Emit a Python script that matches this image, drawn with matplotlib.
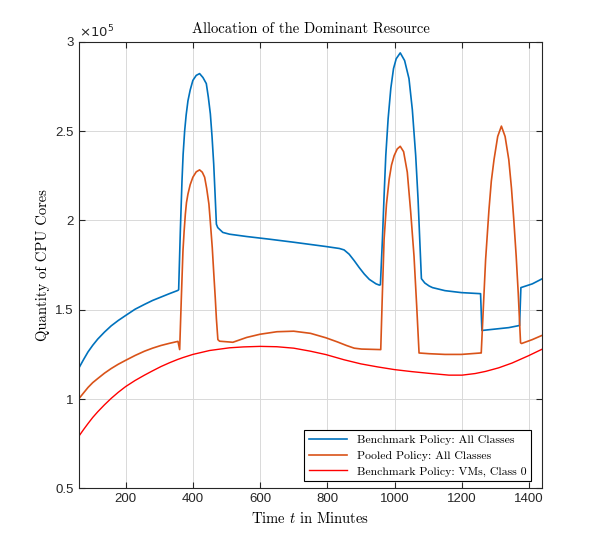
import numpy as np
import matplotlib
matplotlib.use("Agg")
import matplotlib.pyplot as plt
from matplotlib.ticker import FuncFormatter

# values in units of 1e5 CPU cores
bench_t = [60, 75, 88, 102, 117, 137, 157, 178, 200, 228,
           256, 280, 305, 330, 355, 357.7, 362.7, 367.6, 371, 375.5,
           380, 385.4, 392, 400, 410, 420, 430, 440, 446, 452,
           457, 462, 466, 470, 474, 489, 509, 560, 628, 700,
           796, 836, 850, 865, 880, 895, 910, 925, 945, 955,
           958, 964, 969, 974, 981, 989, 997, 1005, 1017, 1030,
           1043, 1053, 1063, 1070, 1075, 1080, 1090, 1103, 1113, 1150,
           1199, 1256, 1260, 1300, 1340, 1372, 1376, 1410, 1440]
bench_all = [1.171, 1.222, 1.264, 1.301, 1.336, 1.375, 1.41, 1.44, 1.468, 1.503,
             1.53, 1.552, 1.571, 1.59, 1.608, 1.612, 1.94, 2.22, 2.37, 2.50,
             2.59, 2.67, 2.73, 2.784, 2.812, 2.822, 2.80, 2.766, 2.69, 2.597,
             2.47, 2.316, 2.15, 1.979, 1.96, 1.933, 1.923, 1.91, 1.895, 1.878,
             1.854, 1.843, 1.835, 1.811, 1.775, 1.736, 1.70, 1.67, 1.645, 1.638,
             1.64, 1.895, 2.14, 2.363, 2.57, 2.74, 2.85, 2.905, 2.938, 2.895,
             2.794, 2.62, 2.363, 2.12, 1.895, 1.674, 1.65, 1.633, 1.624, 1.607,
             1.596, 1.59, 1.384, 1.392, 1.40, 1.412, 1.624, 1.645, 1.674]

pooled_t = [60, 75, 88, 102, 117, 137, 157, 178, 200, 228,
            256, 280, 305, 330, 355.7, 360.7, 365.7, 370.5, 374, 377.6,
            381, 385.4, 392, 400, 410, 420, 428, 435, 441, 447.7,
            452, 457.7, 462, 466.6, 470, 474.4, 479.4, 519, 560, 600,
            650, 700, 750, 796, 830, 857, 880, 902, 959, 964,
            969, 976, 984, 991, 999, 1008, 1017, 1027, 1038, 1048,
            1058, 1066, 1073, 1103, 1150, 1199, 1256, 1258, 1264, 1271,
            1281, 1288, 1296, 1307, 1318, 1329, 1340, 1348, 1355, 1362,
            1368, 1375, 1378, 1410, 1437, 1440]
pooled_all = [1.0, 1.035, 1.065, 1.092, 1.115, 1.145, 1.171, 1.195, 1.217, 1.244,
              1.268, 1.285, 1.30, 1.312, 1.323, 1.277, 1.567, 1.829, 1.94, 2.035,
              2.10, 2.148, 2.20, 2.242, 2.272, 2.283, 2.27, 2.242, 2.18, 2.092,
              1.99, 1.848, 1.71, 1.567, 1.45, 1.333, 1.324, 1.318, 1.345, 1.363,
              1.377, 1.38, 1.368, 1.343, 1.32, 1.30, 1.285, 1.28, 1.277, 1.60,
              1.895, 2.09, 2.23, 2.31, 2.363, 2.40, 2.415, 2.385, 2.27, 2.05,
              1.80, 1.52, 1.258, 1.254, 1.25, 1.25, 1.258, 1.258, 1.50, 1.78,
              2.06, 2.22, 2.34, 2.47, 2.528, 2.47, 2.34, 2.18, 2.0, 1.80,
              1.596, 1.315, 1.311, 1.333, 1.355, 1.357]

vm_t = [60, 75, 88, 102, 117, 137, 157, 178, 200, 228,
        256, 280, 305, 330, 355, 370, 400, 450, 509, 550,
        600, 650, 700, 750, 796, 850, 900, 950, 1000, 1050,
        1103, 1162, 1201, 1240, 1271, 1310, 1350, 1399, 1440]
vm_class0 = [0.79, 0.83, 0.863, 0.897, 0.929, 0.968, 1.004, 1.038, 1.07, 1.104,
             1.134, 1.158, 1.182, 1.203, 1.222, 1.232, 1.25, 1.272, 1.287, 1.292,
             1.295, 1.293, 1.285, 1.268, 1.249, 1.22, 1.197, 1.18, 1.165, 1.154,
             1.144, 1.134, 1.134, 1.143, 1.155, 1.175, 1.202, 1.243, 1.28]

labels = ['Benchmark Policy: All Classes',
          'Pooled Policy: All Classes',
          'Benchmark Policy: VMs, Class 0']

plt.rcParams['mathtext.fontset'] = 'cm'
serif = 'cmr10'
tick_font = 'Liberation Sans'

fig = plt.figure(figsize=(6, 5.5), dpi=100)
ax = fig.add_axes([0.131, 0.112, 0.773, 0.812])

ax.plot(bench_t, bench_all, color='#0072BD', lw=1.2, label=labels[0])
ax.plot(pooled_t, pooled_all, color='#D95319', lw=1.2, label=labels[1])
ax.plot(vm_t, vm_class0, color='#FF0000', lw=1.0, label=labels[2])

ax.set_xlim(60, 1440)
ax.set_ylim(0.5, 3)
ax.set_xticks([200, 400, 600, 800, 1000, 1200, 1400])
ax.set_yticks([0.5, 1, 1.5, 2, 2.5, 3])
ax.yaxis.set_major_formatter(FuncFormatter(lambda v, p: f'{v:g}'))
ax.grid(True, color='#d9d9d9', lw=0.7)
ax.set_axisbelow(True)
ax.tick_params(direction='in', top=True, right=True, length=4,
               color='#262626', labelsize=9.5, labelcolor='#262626')
for lab in ax.get_xticklabels() + ax.get_yticklabels():
    lab.set_fontfamily(tick_font)
for s in ax.spines.values():
    s.set_color('#262626')
    s.set_linewidth(0.8)

ax.text(0.0, 1.004, r'$\times10^{5}$', transform=ax.transAxes,
        ha='left', va='bottom', fontsize=9.5, color='#262626',
        math_fontfamily='dejavusans', family=tick_font)

ax.set_title('Allocation of the Dominant Resource', fontfamily=serif,
             fontsize=10.5, pad=6)
ax.set_xlabel('Time $t$ in Minutes', fontfamily=serif, fontsize=10.5)
ax.set_ylabel('Quantity of CPU Cores', fontfamily=serif, fontsize=10.5)

leg = ax.legend(loc='lower right', bbox_to_anchor=(0.976, 0.016),
                prop={'family': serif, 'size': 8.5},
                fancybox=False, framealpha=1, edgecolor='black',
                handlelength=3.3, borderpad=0.4, labelspacing=0.45,
                borderaxespad=0)
leg.get_frame().set_linewidth(0.8)

fig.savefig('out.png', dpi=100)
